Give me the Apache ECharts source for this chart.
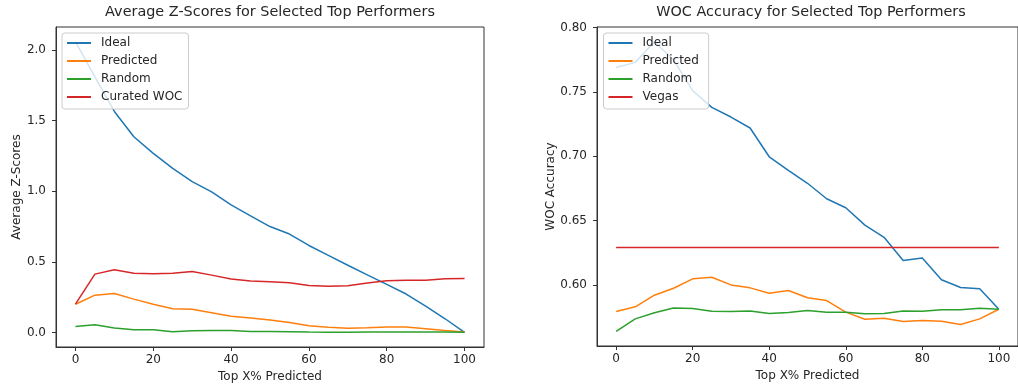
<!DOCTYPE html>
<html>
<head>
<meta charset="utf-8">
<script src="https://cdn.jsdelivr.net/npm/echarts@6/dist/echarts.min.js"></script>
<style>
  html, body { margin: 0; padding: 0; background: #fff; }
  #chart { width: 1018px; height: 388px; }
</style>
</head>
<body>
<div id="chart"></div>
<script>
// Share of top performers selected (percent)
const topPct = [0, 5, 10, 15, 20, 25, 30, 35, 40, 45, 50, 55, 60, 65, 70, 75, 80, 85, 90, 95, 100];

// Left panel: average z-scores
const zIdeal     = [2.06, 1.81, 1.565, 1.386, 1.268, 1.162, 1.068, 0.995, 0.904, 0.826, 0.750, 0.697, 0.616, 0.546, 0.476, 0.408, 0.340, 0.272, 0.186, 0.097, 0.0];
const zPredicted = [0.20, 0.264, 0.276, 0.236, 0.200, 0.168, 0.165, 0.140, 0.114, 0.102, 0.088, 0.071, 0.047, 0.036, 0.029, 0.033, 0.038, 0.038, 0.026, 0.014, 0.003];
const zRandom    = [0.043, 0.055, 0.031, 0.019, 0.019, 0.005, 0.012, 0.014, 0.014, 0.007, 0.007, 0.005, 0.003, 0.002, 0.001, 0.003, 0.003, 0.004, 0.004, 0.004, 0.002];
const zCurated   = [0.20, 0.413, 0.444, 0.420, 0.416, 0.420, 0.432, 0.406, 0.378, 0.364, 0.359, 0.352, 0.333, 0.328, 0.331, 0.350, 0.366, 0.370, 0.370, 0.380, 0.382];

// Right panel: wisdom-of-crowd accuracy
const accIdeal     = [0.769, 0.773, 0.789, 0.775, 0.751, 0.738, 0.7305, 0.722, 0.6996, 0.689, 0.679, 0.667, 0.660, 0.6465, 0.637, 0.619, 0.621, 0.604, 0.598, 0.597, 0.581];
const accPredicted = [0.5793, 0.583, 0.592, 0.5974, 0.6047, 0.606, 0.600, 0.5977, 0.5935, 0.5956, 0.590, 0.5878, 0.5788, 0.5733, 0.5741, 0.5715, 0.5723, 0.5718, 0.5692, 0.5736, 0.5811];
const accRandom    = [0.5638, 0.5736, 0.5783, 0.5821, 0.5816, 0.5796, 0.5793, 0.5798, 0.5778, 0.5785, 0.5801, 0.5788, 0.5788, 0.5775, 0.5778, 0.5798, 0.5796, 0.5806, 0.5806, 0.5819, 0.5811];
const vegasPct = [0, 100];
const vegasAcc = [0.629, 0.629];

// Tick positions
const xTicks = [0, 20, 40, 60, 80, 100];
const zTicks = [0.0, 0.5, 1.0, 1.5, 2.0];
const accTicks = [0.60, 0.65, 0.70, 0.75, 0.80];

const C = { blue: '#1f77b4', orange: '#ff7f0e', green: '#2ca02c', red: '#d62728' };
const FONT = 'DejaVu Sans';
const INK = '#262626';
const FS = 12;

const pairs = (xs, ys) => xs.map((x, i) => [x, ys[i]]);

function lineSeries(name, xs, ys, color, idx) {
  return {
    type: 'line', name, xAxisIndex: idx, yAxisIndex: idx,
    data: pairs(xs, ys), symbol: 'none', smooth: false,
    lineStyle: { color, width: 1.5 }, itemStyle: { color },
    emphasis: { disabled: true }, animation: false
  };
}

function xAxisFor(gridIndex) {
  return {
    type: 'value', gridIndex, min: -5, max: 105,
    name: 'Top X% Predicted', nameLocation: 'middle', nameGap: 21,
    nameTextStyle: { fontFamily: FONT, fontSize: FS, color: INK },
    axisLine: { show: true, onZero: false, lineStyle: { color: '#333', width: 1 } },
    axisTick: { show: true, inside: false, length: 4, customValues: xTicks, lineStyle: { color: '#333' } },
    axisLabel: { customValues: xTicks, margin: 7, fontFamily: FONT, fontSize: FS, color: INK },
    splitLine: { show: false }
  };
}

function yAxisFor(gridIndex, min, max, ticks, digits, name, gap) {
  return {
    type: 'value', gridIndex, min, max,
    name, nameLocation: 'middle', nameRotate: 90, nameGap: gap,
    nameTextStyle: { fontFamily: FONT, fontSize: FS, color: INK },
    axisLine: { show: true, onZero: false, lineStyle: { color: '#333', width: 1 } },
    axisTick: { show: true, inside: false, length: 4, customValues: ticks, lineStyle: { color: '#333' } },
    axisLabel: { customValues: ticks, margin: 10, fontFamily: FONT, fontSize: FS, color: INK,
                 formatter: v => v.toFixed(digits) },
    splitLine: { show: false }
  };
}

function legendAt(left, names) {
  return {
    data: names, orient: 'vertical', left, top: 33,
    itemWidth: 24, itemHeight: 14, itemGap: 6,
    padding: [4, 6, 6, 4],
    backgroundColor: 'rgba(255,255,255,0.8)',
    borderColor: '#cccccc', borderWidth: 1, borderRadius: 3,
    itemStyle: { opacity: 0 },
    textStyle: { fontFamily: FONT, fontSize: FS, color: INK, padding: [0, 0, 0, 5] },
    selectedMode: false
  };
}

const chart = echarts.init(document.getElementById('chart'), null, { renderer: 'canvas' });
chart.setOption({
  backgroundColor: '#ffffff',
  animation: false,
  title: [
    { text: 'Average Z-Scores for Selected Top Performers', left: 270, top: 5, textAlign: 'center', padding: 0,
      textStyle: { fontFamily: FONT, fontSize: 14.4, fontWeight: 'normal', color: INK } },
    { text: 'WOC Accuracy for Selected Top Performers', left: 811, top: 5, textAlign: 'center', padding: 0,
      textStyle: { fontFamily: FONT, fontSize: 14.4, fontWeight: 'normal', color: INK } }
  ],
  legend: [
    legendAt(62, ['Ideal', 'Predicted', 'Random', 'Curated WOC']),
    legendAt(603.5, ['Ideal ', 'Predicted ', 'Random ', 'Vegas'])
  ],
  grid: [
    { left: 56, right: 534, top: 27, bottom: 41, show: true, borderColor: '#333', borderWidth: 1, backgroundColor: 'transparent' },
    { left: 597, right: -8, top: 27, bottom: 42, show: true, borderColor: '#333', borderWidth: 1, backgroundColor: 'transparent' }
  ],
  xAxis: [xAxisFor(0), xAxisFor(1)],
  yAxis: [
    yAxisFor(0, -0.103, 2.163, zTicks, 1, 'Average Z-Scores', 32),
    yAxisFor(1, 0.5525, 0.8005, accTicks, 2, 'WOC Accuracy', 39)
  ],
  series: [
    lineSeries('Ideal', topPct, zIdeal, C.blue, 0),
    lineSeries('Predicted', topPct, zPredicted, C.orange, 0),
    lineSeries('Random', topPct, zRandom, C.green, 0),
    lineSeries('Curated WOC', topPct, zCurated, C.red, 0),
    lineSeries('Ideal ', topPct, accIdeal, C.blue, 1),
    lineSeries('Predicted ', topPct, accPredicted, C.orange, 1),
    lineSeries('Random ', topPct, accRandom, C.green, 1),
    lineSeries('Vegas', vegasPct, vegasAcc, C.red, 1)
  ]
});
</script>
</body>
</html>
